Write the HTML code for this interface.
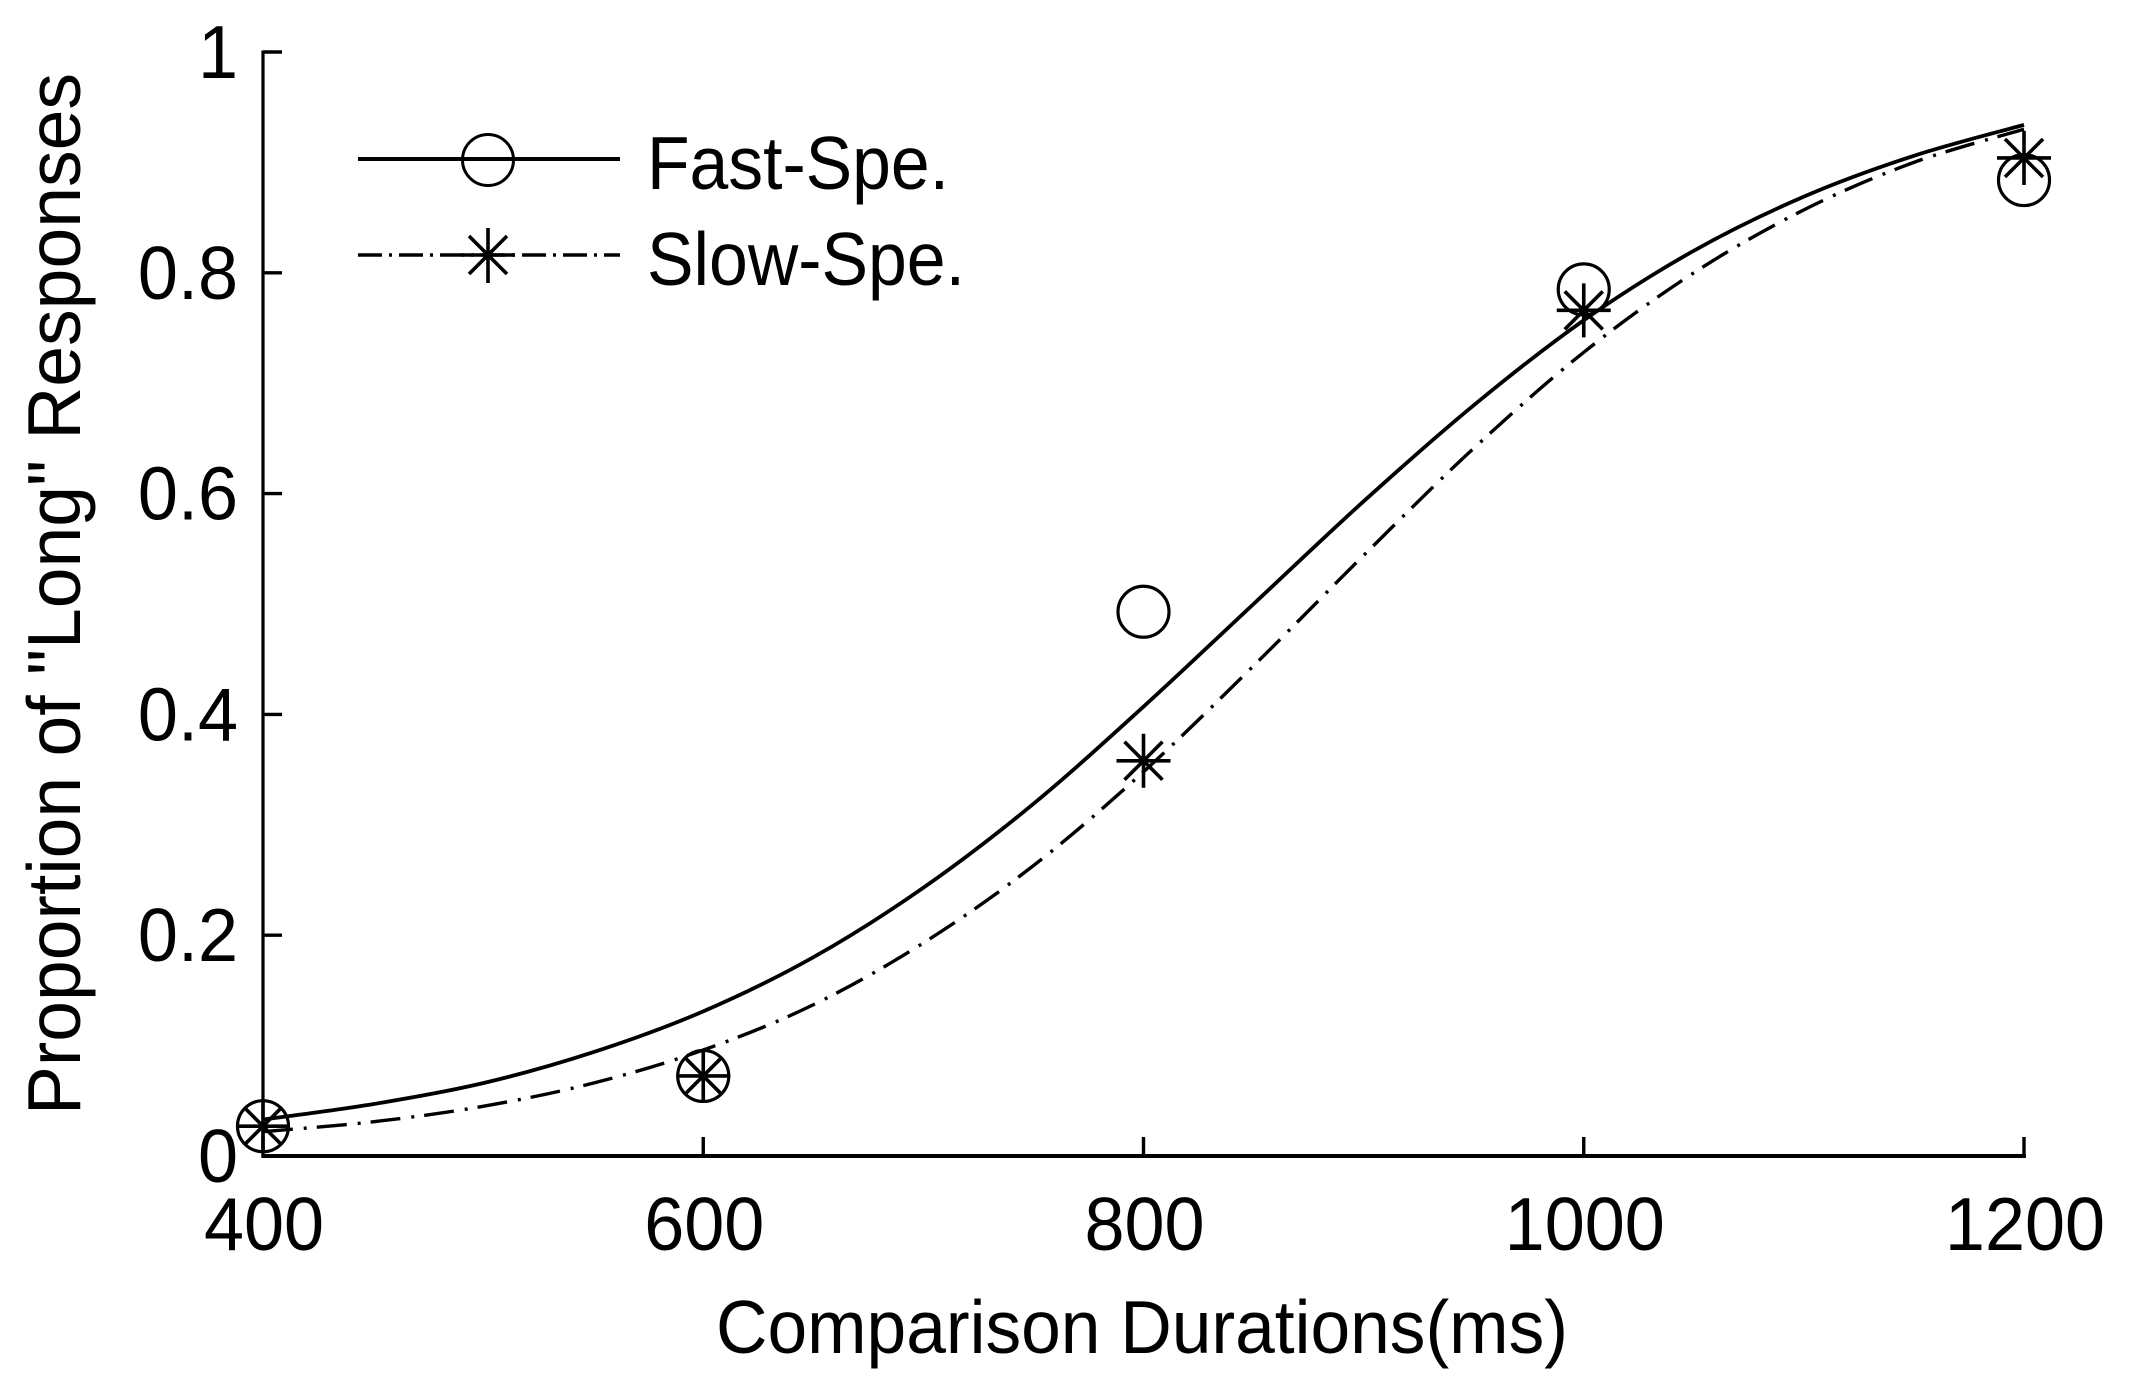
<!DOCTYPE html>
<html lang="en">
<head>
<meta charset="utf-8">
<title>Proportion of "Long" Responses vs Comparison Durations</title>
<style>
html,body{margin:0;padding:0;background:#fff;}
svg{display:block;}
text{font-family:"Liberation Sans",Arial,sans-serif;fill:#000;}
</style>
</head>
<body>
<svg id="chart" xmlns="http://www.w3.org/2000/svg" width="2131" height="1396" viewBox="0 0 2131 1396">
  <rect x="0" y="0" width="2131" height="1396" fill="#fff"/>
  <g id="axes"></g>
  <g id="curves"></g>
  <g id="points"></g>
  <text transform="translate(716,1353) scale(1,1.05)" x="0" y="0" font-size="72" textLength="852" lengthAdjust="spacingAndGlyphs">Comparison Durations(ms)</text>
  <text transform="translate(80,1115) rotate(-90) scale(1,1.05)" x="0" y="0" font-size="72" textLength="1042" lengthAdjust="spacingAndGlyphs">Proportion of "Long" Responses</text>
  <g>
    <g>
      <line x1="358" y1="159" x2="620" y2="159" stroke="#000" stroke-width="4"/>
      <circle cx="488" cy="160" r="25.5" fill="none" stroke="#000" stroke-width="3"/>
      <text transform="translate(647,189) scale(1,1.05)" x="0" y="0" font-size="72" textLength="302" lengthAdjust="spacingAndGlyphs">Fast-Spe.</text>
    </g>
    <g>
      <line x1="358" y1="255" x2="620" y2="255" stroke="#000" stroke-width="3.6" stroke-dasharray="24 7 3 7"/>
      <g stroke="#000" stroke-width="3.6">
        <line x1="488" y1="228" x2="488" y2="283"/>
        <line x1="461" y1="255" x2="515" y2="255"/>
        <line x1="469" y1="236" x2="507" y2="274"/>
        <line x1="469" y1="274" x2="507" y2="236"/>
      </g>
      <text transform="translate(647,285) scale(1,1.05)" x="0" y="0" font-size="72" textLength="318" lengthAdjust="spacingAndGlyphs">Slow-Spe.</text>
    </g>
  </g>
</svg>
<script>
var xTicks = [400, 600, 800, 1000, 1200];
var yTicks = [0, 0.2, 0.4, 0.6, 0.8, 1];
var yTickLabels = ['0', '0.2', '0.4', '0.6', '0.8', '1'];
var curveDurations = [400, 450, 500, 550, 600, 650, 700, 750, 800, 850, 900, 950, 1000, 1050, 1100, 1150, 1200];
var fastCurve = [0.033, 0.047, 0.066, 0.094, 0.131, 0.18, 0.243, 0.319, 0.407, 0.5, 0.593, 0.68, 0.757, 0.82, 0.869, 0.906, 0.934];
var slowCurve = [0.022, 0.031, 0.045, 0.066, 0.096, 0.137, 0.193, 0.263, 0.348, 0.444, 0.544, 0.641, 0.728, 0.8, 0.857, 0.9, 0.93];
var pointDurations = [400, 600, 800, 1000, 1200];
var fastPoints = [0.027, 0.0725, 0.493, 0.785, 0.884];
var slowPoints = [0.027, 0.0725, 0.358, 0.766, 0.904];

var NS = 'http://www.w3.org/2000/svg';
function xScale(v) { return 263 + (v - 400) * (1761 / 800); }
function yScale(v) { return 1156 - v * 1104; }
function make(tag, parent) {
  var el = document.createElementNS(NS, tag);
  parent.appendChild(el);
  return el;
}
function lineEl(parent, x1, y1, x2, y2, width) {
  var el = make('line', parent);
  el.setAttribute('x1', x1);
  el.setAttribute('y1', y1);
  el.setAttribute('x2', x2);
  el.setAttribute('y2', y2);
  el.setAttribute('stroke', '#000');
  el.setAttribute('stroke-width', width);
  return el;
}
function smoothPath(xs, ys) {
  var pts = xs.map(function (x, i) { return [xScale(x), yScale(ys[i])]; });
  var d = 'M' + pts[0][0] + ' ' + pts[0][1];
  for (var i = 0; i < pts.length - 1; i++) {
    var p0 = pts[Math.max(i - 1, 0)], p1 = pts[i], p2 = pts[i + 1], p3 = pts[Math.min(i + 2, pts.length - 1)];
    d += 'C' + (p1[0] + (p2[0] - p0[0]) / 6) + ' ' + (p1[1] + (p2[1] - p0[1]) / 6) + ' ' +
         (p2[0] - (p3[0] - p1[0]) / 6) + ' ' + (p2[1] - (p3[1] - p1[1]) / 6) + ' ' + p2[0] + ' ' + p2[1];
  }
  return d;
}

var axes = document.getElementById('axes');
var curves = document.getElementById('curves');
var points = document.getElementById('points');

var yAxis = lineEl(axes, xScale(400), yScale(1) - 1.5, xScale(400), yScale(0) + 2, 3.2);


var xAxis = lineEl(axes, xScale(400), yScale(0), xScale(1200) + 2, yScale(0), 4);



xTicks.forEach(function (t) {
  var tick = lineEl(axes, xScale(t), yScale(0), xScale(t), yScale(0) - 19, 3.4);
  
  
  var label = make('text', axes);
  
  
  label.setAttribute('transform', 'translate(' + (xScale(t) + 1) + ',1250) scale(1,1.05)');
  label.setAttribute('font-size', 72);
  label.setAttribute('text-anchor', 'middle');
  label.textContent = String(t);
});

yTicks.forEach(function (t, i) {
  var tick = lineEl(axes, xScale(400), yScale(t), xScale(400) + 19, yScale(t), 3.4);
  
  
  var label = make('text', axes);
  
  
  label.setAttribute('transform', 'translate(238,' + (yScale(t) + 26) + ') scale(1,1.05)');
  label.setAttribute('font-size', 72);
  label.setAttribute('text-anchor', 'end');
  label.textContent = yTickLabels[i];
});

var fastPath = make('path', curves);


fastPath.setAttribute('d', smoothPath(curveDurations, fastCurve));
fastPath.setAttribute('fill', 'none');
fastPath.setAttribute('stroke', '#000');
fastPath.setAttribute('stroke-width', 3.8);

var slowPath = make('path', curves);


slowPath.setAttribute('d', smoothPath(curveDurations, slowCurve));
slowPath.setAttribute('fill', 'none');
slowPath.setAttribute('stroke', '#000');
slowPath.setAttribute('stroke-width', 3.4);
slowPath.setAttribute('stroke-dasharray', '30 11 3 10');

pointDurations.forEach(function (d, i) {
  var c = make('circle', points);
  
  
  c.setAttribute('cx', xScale(d));
  c.setAttribute('cy', yScale(fastPoints[i]));
  c.setAttribute('r', 25.5);
  c.setAttribute('fill', 'none');
  c.setAttribute('stroke', '#000');
  c.setAttribute('stroke-width', 3.2);
});

pointDurations.forEach(function (d, i) {
  var cx = xScale(d), cy = yScale(slowPoints[i]);
  var star = make('g', points);
  
  
  lineEl(star, cx, cy - 27, cx, cy + 27, 3.6);
  lineEl(star, cx - 27, cy, cx + 27, cy, 3.6);
  lineEl(star, cx - 19, cy - 19, cx + 19, cy + 19, 3.6);
  lineEl(star, cx - 19, cy + 19, cx + 19, cy - 19, 3.6);
});
</script>
</body>
</html>
